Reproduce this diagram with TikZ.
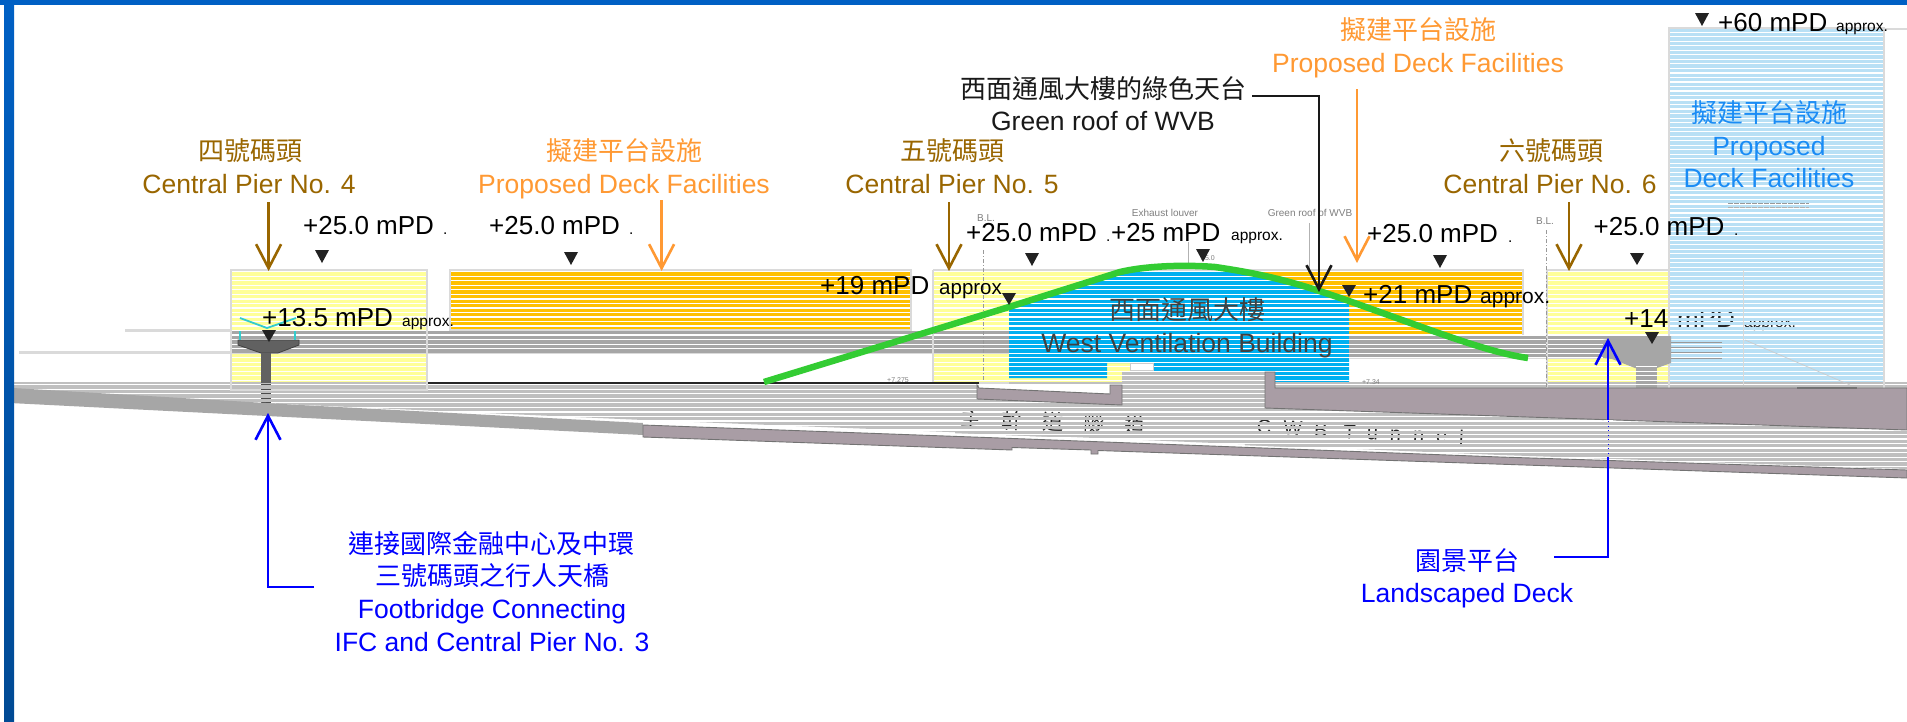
\documentclass[tikz,border=0pt]{standalone}
\usepackage{fontspec}
\usetikzlibrary{arrows.meta}
\setmainfont{Liberation Sans}
\newfontfamily\cjk{Noto Sans CJK TC}
\definecolor{barA}{HTML}{0060C4}
\definecolor{barB}{HTML}{004A94}
\definecolor{pierY}{HTML}{FFFF99}
\definecolor{deckO}{HTML}{FFC000}
\definecolor{towerB}{HTML}{B9E0F5}
\definecolor{wvbB}{HTML}{00B0F0}
\definecolor{roadG}{HTML}{A6A6A6}
\definecolor{groundG}{HTML}{BFBFBF}
\definecolor{slabP}{HTML}{A99DA5}
\definecolor{edgeG}{HTML}{DADADA}
\definecolor{roofG}{HTML}{33CC33}
\definecolor{brownT}{HTML}{996600}
\definecolor{orangeT}{HTML}{FF9933}
\definecolor{skyT}{HTML}{1A8CF5}
\definecolor{markK}{HTML}{222222}
\definecolor{textD}{HTML}{404040}
\definecolor{ghost}{HTML}{7F7F7F}
\definecolor{railC}{HTML}{33CCCC}
\tikzset{
  lab/.style={inner sep=0pt,anchor=base,font=\fontsize{26.5}{28}\selectfont},
  labw/.style={inner sep=0pt,anchor=base west,font=\fontsize{26}{28}\selectfont,text=black},
  hanzi/.style={inner sep=0pt,anchor=base,font=\cjk\fontsize{26}{28}\selectfont},
  tiny/.style={inner sep=0pt,anchor=base west,font=\fontsize{15.5}{16}\selectfont,text=black},
  faint/.style={inner sep=0pt,anchor=base,font=\fontsize{10}{11}\selectfont,text=ghost},
  boxed/.style={draw=edgeG,line width=2pt},
  barb/.style={line width=2.6pt,-{Straight Barb[length=24pt,width=25pt,line width=2.6pt]}},
  thinedge/.style={draw=black!55,line width=.9pt}
}
\newcommand\lv[1]{\fill[markK] #1}
\newcommand\trim[5]{\begin{scope}\clip (#1,#2) rectangle (#3,#4);
  \foreach \k in {0,...,100}{\draw[#5,line width=3.3pt] (#1,{27.7+2.26+4.52*\k}) -- (#3,{27.7+2.26+4.52*\k});}
  \end{scope}}
\begin{document}
\begin{tikzpicture}[x=1pt,y=-1pt]
\useasboundingbox (0,0) rectangle (1907,721);
\fill[white] (0,0) rectangle (1907,721);
% fills below the scan lines
\fill[towerB] (1669,28) rectangle (1883,388);
\fill[pierY] (231,270) rectangle (427,385);
\fill[deckO] (450,270) rectangle (911,330);
\fill[pierY] (933,270) rectangle (1200,383);
\fill[deckO] (1200,270) rectangle (1523,335);
\fill[pierY] (1547,270) rectangle (1670,388);
\fill[wvbB] (1009,307) -- (1120,272) .. controls (1150,265) and (1190,265) .. (1215,267)
  .. controls (1270,275) and (1300,284) .. (1349,301) -- (1349,388) -- (1275,388) -- (1275,372)
  -- (1153,372) -- (1153,363) -- (1107,363) -- (1107,378) -- (1009,378) -- cycle;
\fill[roadG] (231,330) rectangle (1009,353);
\fill[roadG] (1349,335) rectangle (1671,358);
\fill[groundG] (11,382) -- (1907,382) -- (1907,469) -- (1500,455) -- (1000,434) -- (643,420) -- (11,392) -- cycle;
\fill[groundG] (1122,371) rectangle (1265,390);
% ghost text sits in the white scan rows
\foreach \k in {0,...,100}{\draw[white,line width=1.2pt] (0,{27.7+4.52*\k}) -- (1907,{27.7+4.52*\k});}
\node[labw,text=markK,font=\fontsize{26}{28}\selectfont] (mpdghost) at (1677,327) {mPD};
\node[tiny,text=markK] (apxghost) at (1744,327) {approx.};
\trim{1672}{300}{1880}{335}{towerB}
\node[inner sep=0pt,anchor=base,text=markK,rotate=-2,font=\cjk\fontsize{21}{22}\selectfont] (zhtunnel) at (1053,430)
  {主\hspace{20pt}幹\hspace{20pt}道\hspace{20pt}隧\hspace{20pt}道};
\node[inner sep=0pt,anchor=base,text=markK,rotate=-3,font=\fontsize{20}{22}\selectfont] (entunnel) at (1360,439)
  {\addfontfeature{LetterSpace=60}CWB\hspace{16pt}Tunnel};
\trim{955}{400}{1155}{436}{groundG}
\trim{1245}{410}{1480}{448}{groundG}
% solid parts above the scan lines
\draw[edgeG,line width=3pt] (125,330.5) -- (231,330.5);
\draw[edgeG,line width=3pt] (19,352) -- (231,352);
\draw[boxed] (231,270) rectangle (427,390);
\draw[boxed] (450,270) rectangle (911,330);
\draw[boxed] (933,270) -- (1300,270);
\draw[boxed] (933,270) -- (933,383) -- (1009,383);
\draw[boxed] (1300,270) -- (1523,270) -- (1523,335);
\draw[boxed] (1547,388) -- (1547,270) -- (1670,270);
\draw[edgeG,line width=1.5pt] (231,353.5) -- (1009,353.5);
\draw[edgeG,line width=1.5pt] (1349,358.5) -- (1600,358.5);
\draw[edgeG,line width=2pt] (1669,388) -- (1669,28) -- (1884,28) -- (1884,388);
\draw[edgeG,line width=1.5pt] (1884,29) -- (1907,29);
% deck on the right
\fill[roadG] (1603,340) -- (1625,336) -- (1671,336) -- (1671,363) -- (1657,368) -- (1635,368) -- (1612,359) -- (1603,358) -- cycle;
\fill[roadG] (1636,368) rectangle (1657,388);
\foreach \k in {75,...,79}{\draw[white,line width=.8pt] (1636,{27.7+4.52*\k}) -- (1657,{27.7+4.52*\k});}
\foreach \yy in {342,347,352,358}{\draw[black!40,line width=.8pt] (1671,\yy) -- (1722,\yy);}
\draw[white!85!black,line width=.6pt] (1743,270) -- (1743,385);
\draw[black!20,line width=.7pt] (1745,340) -- (1850,385);
\draw[black!40,line width=.7pt,dash pattern=on 5pt off 1pt] (1728,203) -- (1809,203);
\draw[black!30,line width=.7pt,dash pattern=on 5pt off 1pt] (1728,207) -- (1809,207);
% footbridge
\fill[black!62,draw=black!75,line width=.8pt] (238,340) -- (299,340) -- (299,345) -- (278,353) -- (261,353) -- (238,345) -- cycle;
\fill[black!62] (261,353) rectangle (271,383);
\foreach \k in {79,...,83}{\draw[black!70,line width=.9pt] (261,{27.7+4.52*\k}) -- (271,{27.7+4.52*\k});}
\draw[railC,line width=1.8pt] (240,318) -- (267,328) -- (296,318);
\draw[railC,line width=2pt] (240,331) -- (240,340) (295,331) -- (295,340);
% wedge, slabs, tunnel
\fill[roadG] (10,392) -- (13,388) -- (300,405) -- (643,423) -- (643,435) -- (10,403) -- cycle;
\fill[white] (643,421) -- (1000,435) -- (1500,456) -- (1500,458) -- (1000,439) -- (643,425) -- cycle;
\filldraw[slabP,thinedge] (643,425) -- (1000,438) -- (1500,457) -- (1907,470) -- (1907,478) -- (1098,450.5) -- (1098,454)
  -- (1091,454) -- (1091,450) -- (1012,447.5) -- (1012,450) -- (643,437) -- cycle;
\filldraw[slabP,thinedge] (1265,372) -- (1275,372) -- (1275,388) -- (1907,388) -- (1907,430) -- (1265,408) -- cycle;
\fill[white] (979,384) -- (1110,384) -- (1110,394) -- (979,388) -- cycle;
\filldraw[slabP,thinedge] (977,385) -- (979,388) -- (1110,394) -- (1110,385) -- (1122,385) -- (1122,405) -- (977,399) -- cycle;
\fill[white,draw=black!20,line width=.8pt] (1130,363) rectangle (1153,370);
\draw[black!85,line width=1.2pt] (428,383) -- (979,383);
\draw[black!55,line width=1.2pt] (1797,388) -- (1857,388);
\draw[black!40,line width=.8pt,dash pattern=on 4pt off 2pt on 1pt off 2pt] (983,250) -- (983,380);
\draw[black!40,line width=.8pt,dash pattern=on 4pt off 2pt on 1pt off 2pt] (1546.5,230) -- (1546.5,388);
\draw[black!30,line width=.8pt] (1188,242) -- (1188,265);
\draw[black!30,line width=.8pt] (1309,223) -- (1309,270);
% small drawing labels
\node[faint] (blA) at (986,221) {B.L.};
\node[faint] (blB) at (1545,224) {B.L.};
\node[faint] (exh) at (1165,216) {Exhaust louver};
\node[faint] (grn) at (1310,216) {Green roof of WVB};
\node[faint,font=\fontsize{7}{8}\selectfont] (lvA) at (898,382) {+7.275};
\node[faint,font=\fontsize{7}{8}\selectfont] (lvB) at (1371,384) {+7.34};
\node[faint,font=\fontsize{7}{8}\selectfont] (lvC) at (1208,260) {25.0};
% green roof
\draw[roofG,line width=6.5pt,line join=round] (764,382) -- (1009,307) -- (1120,272) .. controls (1150,265) and (1190,265) .. (1215,267)
  .. controls (1270,275) and (1300,284) .. (1349,301) -- (1430,330) .. controls (1470,344) and (1500,354) .. (1528,358);
% level markers
\lv{(315,250) -- (329,250) -- (322,263) -- cycle;}
\lv{(564,252) -- (578,252) -- (571,265) -- cycle;}
\lv{(262,330) -- (276,330) -- (269,342) -- cycle;}
\lv{(1025,253) -- (1039,253) -- (1032,266) -- cycle;}
\lv{(1196,249) -- (1210,249) -- (1203,262) -- cycle;}
\lv{(1002,293) -- (1016,293) -- (1009,305) -- cycle;}
\lv{(1433,255) -- (1447,255) -- (1440,268) -- cycle;}
\lv{(1630,253) -- (1644,253) -- (1637,265) -- cycle;}
\lv{(1342,285) -- (1356,285) -- (1349,297) -- cycle;}
\lv{(1645,332) -- (1659,332) -- (1652,344) -- cycle;}
\lv{(1695,13) -- (1709,13) -- (1702,26) -- cycle;}
% frame
\shade[top color=barA,bottom color=barB] (4,0) rectangle (14,721);
\fill[barA] (0,0) rectangle (1907,5);
% black texts
\node[labw] (a) at (303,234) {+25.0 mPD};
\node[tiny] (ad) at (443,234) {.};
\node[labw] (b) at (489,234) {+25.0 mPD};
\node[tiny] (bd) at (629,234) {.};
\node[labw] (c) at (966,241) {+25.0 mPD};
\node[tiny] (cd) at (1106,241) {.};
\node[labw] (d) at (1111,241) {+25 mPD};
\node[tiny] (dd) at (1231,240) {approx.};
\node[labw] (e) at (262,326) {+13.5 mPD};
\node[tiny] (ed) at (402,326) {approx.};
\node[labw] (f) at (820,294) {+19 mPD};
\node[tiny,font=\fontsize{20.5}{21}\selectfont] (fd) at (939,294) {approx};
\node[labw] (g) at (1363,303) {+21 mPD};
\node[tiny,font=\fontsize{21}{22}\selectfont] (gd) at (1480,303) {approx.};
\node[labw] (h) at (1367,242) {+25.0 mPD};
\node[tiny] (hd) at (1508,242) {.};
\node[labw] (i) at (1593.5,235) {+25.0 mPD};
\node[tiny] (id) at (1734,235) {.};
\node[labw] (j) at (1624,327) {+14};
\node[labw] (k) at (1718,31) {+60 mPD};
\node[tiny] (kd) at (1836,31) {approx.};
% building
\node[hanzi,text=textD] (wvbz) at (1187,319) {西面通風大樓};
\node[lab,text=textD] (wvbe) at (1187,352) {West Ventilation Building};
% tower
\node[hanzi,text=skyT] (towz) at (1769,122) {擬建平台設施};
\node[lab,text=skyT] (towa) at (1769,155) {Proposed};
\node[lab,text=skyT] (towb) at (1769,187) {Deck Facilities};
% brown and orange labels
\node[hanzi,text=brownT] (p4z) at (250,160) {四號碼頭};
\node[lab,text=brownT] (p4e) at (249,193) {Central Pier No. 4};
\node[hanzi,text=brownT] (p5z) at (952,160) {五號碼頭};
\node[lab,text=brownT] (p5e) at (952,193) {Central Pier No. 5};
\node[hanzi,text=brownT] (p6z) at (1551,160) {六號碼頭};
\node[lab,text=brownT] (p6e) at (1550,193) {Central Pier No. 6};
\node[hanzi,text=orangeT] (d1z) at (624,160) {擬建平台設施};
\node[lab,text=orangeT] (d1e) at (624,193) {Proposed Deck Facilities};
\node[hanzi,text=orangeT] (d2z) at (1418,39) {擬建平台設施};
\node[lab,text=orangeT] (d2e) at (1418,72) {Proposed Deck Facilities};
\node[hanzi,text=black!90] (gz) at (1103,98) {西面通風大樓的綠色天台};
\node[lab,text=black!90] (ge) at (1103,130) {Green roof of WVB};
% blue labels
\node[hanzi,text=blue] (fa) at (491,553) {連接國際金融中心及中環};
\node[hanzi,text=blue] (fb) at (492,585) {三號碼頭之行人天橋};
\node[lab,text=blue] (fc) at (492,618) {Footbridge Connecting};
\node[lab,text=blue] (fd2) at (492,651) {IFC and Central Pier No. 3};
\node[hanzi,text=blue] (lz) at (1467,570) {園景平台};
\node[lab,text=blue] (le) at (1467,602) {Landscaped Deck};
% connector ends
\coordinate (t4a) at (268.6,202); \coordinate (t4b) at (268.6,271);
\coordinate (t5a) at (949,202);   \coordinate (t5b) at (949,271);
\coordinate (t6a) at (1569,202);  \coordinate (t6b) at (1569,271);
\coordinate (o1a) at (661.6,200); \coordinate (o1b) at (661.6,271);
\coordinate (o2a) at (1357,89);   \coordinate (o2b) at (1357,263);
\coordinate (ga) at (1252,96);    \coordinate (gb) at (1319,292);
\coordinate (fa0) at (314,587);   \coordinate (fb0) at (268,413);
\coordinate (la0) at (1554,557);  \coordinate (lb0) at (1608,338);
\draw[barb,brownT] (t4a) -- (t4b);
\draw[barb,brownT] (t5a) -- (t5b);
\draw[barb,brownT] (t6a) -- (t6b);
\draw[barb,orangeT] (o1a) -- (o1b);
\draw[barb,orangeT] (o2a) -- (o2b);
\draw[barb,black!90] (ga) -| (gb);
\draw[barb,blue] (fa0) -| (fb0);
\draw[barb,blue] (la0) -| (lb0);
% the blue leader runs under the scan-lined tunnel
\fill[groundG] (1604,421) rectangle (1613,457);
\foreach \k in {87,...,94}{\draw[white,line width=1.2pt] (1604,{27.7+4.52*\k}) -- (1613,{27.7+4.52*\k});}
\draw[blue,line width=1pt,dash pattern=on 1pt off 3.52pt] (1608.5,421) -- (1608.5,457);
\end{tikzpicture}
\end{document}
